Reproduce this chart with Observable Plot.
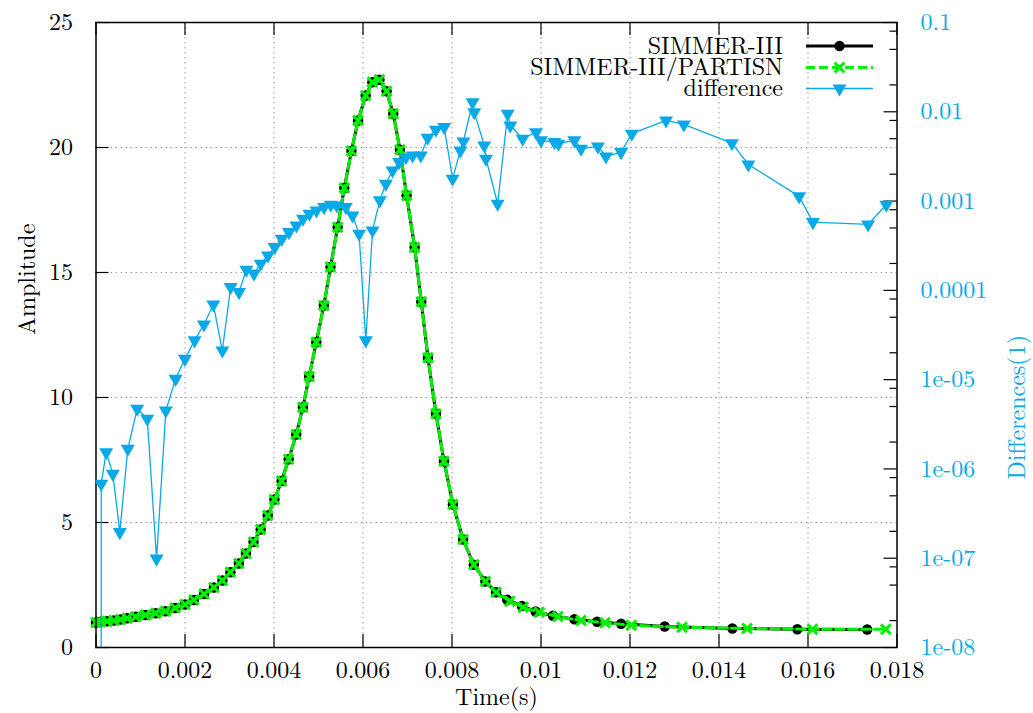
<!DOCTYPE html>
<html>
<head>
<meta charset="utf-8">
<script src="https://cdn.jsdelivr.net/npm/d3@7"></script>
<script src="https://cdn.jsdelivr.net/npm/@observablehq/plot@0.6"></script>
<style>
  body { margin: 0; background: #fff; }
  #chart { position: relative; width: 1033px; height: 713px; }
  #chart svg { position: absolute; left: 0; top: 0; }
</style>
</head>
<body>
<div id="chart"></div>
<script>
// SIMMER-III amplitude history
const simmerTime = [0, 0.0001, 0.00025, 0.0004, 0.00055, 0.0007, 0.00089, 0.00111, 0.00134, 0.00156,
  0.00178, 0.002, 0.0022, 0.00243, 0.00265, 0.00284, 0.00302, 0.00321, 0.00337, 0.00354,
  0.0037, 0.00386, 0.00401, 0.00417, 0.00433, 0.0045, 0.00465, 0.00479, 0.00495, 0.00512,
  0.00527, 0.00543, 0.00558, 0.00574, 0.00589, 0.00606, 0.00621, 0.00637, 0.00653, 0.00668,
  0.00683, 0.00698, 0.00716, 0.00731, 0.00746, 0.00764, 0.00782, 0.00802, 0.00825, 0.00849,
  0.00875, 0.00899, 0.00924, 0.00957, 0.00988, 0.01027, 0.01075, 0.01126, 0.0118, 0.01278,
  0.0143, 0.01576, 0.01733];
const simmerAmp = [1.0, 1.03, 1.05, 1.08, 1.12, 1.17, 1.23, 1.3, 1.37, 1.45,
  1.58, 1.72, 1.9, 2.14, 2.4, 2.68, 3.01, 3.36, 3.76, 4.22,
  4.72, 5.28, 5.92, 6.66, 7.53, 8.52, 9.61, 10.84, 12.21, 13.68,
  15.22, 16.81, 18.38, 19.86, 21.08, 22.08, 22.61, 22.71, 22.25, 21.35,
  19.91, 18.08, 16.01, 13.83, 11.59, 9.35, 7.45, 5.72, 4.32, 3.31,
  2.64, 2.21, 1.91, 1.66, 1.44, 1.27, 1.13, 1.03, 0.95, 0.84,
  0.76, 0.73, 0.72];

// SIMMER-III/PARTISN amplitude history
const partisnTime = [0, 0.0001, 0.00025, 0.0004, 0.00055, 0.0007, 0.00089, 0.00111, 0.00134, 0.00156,
  0.00178, 0.002, 0.0022, 0.00243, 0.00265, 0.00284, 0.00302, 0.00321, 0.00337, 0.00354,
  0.0037, 0.00386, 0.00401, 0.00417, 0.00433, 0.0045, 0.00465, 0.00479, 0.00495, 0.00512,
  0.00527, 0.00543, 0.00558, 0.00574, 0.00589, 0.00606, 0.00621, 0.00637, 0.00653, 0.00668,
  0.00683, 0.00698, 0.00716, 0.00731, 0.00746, 0.00764, 0.00782, 0.00802, 0.00825, 0.00849,
  0.00875, 0.00899, 0.0093, 0.0096, 0.00996, 0.01038, 0.0109, 0.01144, 0.01203, 0.01317,
  0.01463, 0.0161, 0.01775];
const partisnAmp = [1.0, 1.03, 1.05, 1.08, 1.12, 1.17, 1.23, 1.3, 1.37, 1.45,
  1.58, 1.72, 1.9, 2.14, 2.4, 2.68, 3.01, 3.36, 3.76, 4.22,
  4.72, 5.28, 5.92, 6.66, 7.53, 8.52, 9.61, 10.84, 12.21, 13.68,
  15.22, 16.81, 18.38, 19.86, 21.08, 22.08, 22.61, 22.71, 22.25, 21.35,
  19.91, 18.08, 16.01, 13.83, 11.59, 9.35, 7.45, 5.72, 4.32, 3.31,
  2.64, 2.21, 1.85, 1.61, 1.41, 1.24, 1.08, 0.99, 0.89, 0.81,
  0.76, 0.73, 0.73];

// Relative difference between the two codes (right, logarithmic axis)
const diffTime = [0.000117, 0.000117, 0.000229, 0.000378, 0.000535, 0.000715, 0.000927, 0.001152, 0.001361, 0.00157,
  0.001789, 0.001998, 0.002216, 0.002425, 0.002637, 0.002839, 0.003026, 0.003213, 0.003379, 0.00355,
  0.003701, 0.003865, 0.004016, 0.004173, 0.004337, 0.004504, 0.004652, 0.004796, 0.004954, 0.005125,
  0.005276, 0.005411, 0.005613, 0.005764, 0.005912, 0.006063, 0.006214, 0.006378, 0.006513, 0.006664,
  0.006812, 0.006963, 0.007114, 0.0073, 0.007451, 0.007638, 0.007825, 0.008013, 0.008189, 0.008256,
  0.008463, 0.0085, 0.008724, 0.008763, 0.009026, 0.009251, 0.009309, 0.009588, 0.009888, 0.01,
  0.0103, 0.01039, 0.01075, 0.0109, 0.01128, 0.01146, 0.0118, 0.01204, 0.01281, 0.01321,
  0.01429, 0.01466, 0.0158, 0.01611, 0.01735, 0.01776];
const diffValue = [1e-12, 6.8e-7, 1.54e-6, 8.8e-7, 1.96e-7, 1.68e-6, 4.72e-6, 3.65e-6, 9.9e-8, 4.52e-6,
  1.02e-5, 1.71e-5, 2.75e-5, 4.15e-5, 6.95e-5, 2.12e-5, 1.09e-4, 9.55e-5, 1.7e-4, 1.54e-4,
  1.99e-4, 2.46e-4, 3.05e-4, 3.78e-4, 4.49e-4, 5.33e-4, 6.34e-4, 7.21e-4, 7.85e-4, 8.55e-4,
  9.1e-4, 8.93e-4, 8.55e-4, 6.9e-4, 4.31e-4, 2.75e-5, 4.69e-4, 1.02e-3, 1.56e-3, 2.2e-3,
  2.73e-3, 3.1e-3, 3.24e-3, 3.24e-3, 5.12e-3, 6.29e-3, 6.73e-3, 1.78e-3, 3.69e-3, 4.65e-3,
  1.28e-2, 9.9e-3, 4.2e-3, 2.98e-3, 9.33e-4, 9.5e-3, 7.03e-3, 4.99e-3, 5.91e-3, 4.78e-3,
  4.57e-3, 4.39e-3, 4.78e-3, 3.86e-3, 4.09e-3, 3.16e-3, 3.53e-3, 5.68e-3, 8.0e-3, 7.21e-3,
  4.45e-3, 2.57e-3, 1.13e-3, 5.81e-4, 5.47e-4, 9.1e-4];

// Axis ticks and their labels
const timeTicks = [0, 0.002, 0.004, 0.006, 0.008, 0.01, 0.012, 0.014, 0.016, 0.018];
const timeTickLabels = ["0", "0.002", "0.004", "0.006", "0.008", "0.01", "0.012", "0.014", "0.016", "0.018"];
const ampTicks = [0, 5, 10, 15, 20, 25];
const diffTicks = [0.1, 0.01, 0.001, 0.0001, 1e-5, 1e-6, 1e-7, 1e-8];
const diffTickLabels = ["0.1", "0.01", "0.001", "0.0001", "1e-05", "1e-06", "1e-07", "1e-08"];
const diffMinorSteps = [2, 5, 8];

const seriesNames = ["SIMMER-III", "SIMMER-III/PARTISN", "difference"];

// Layout
const W = 1033, H = 713;
const M = {top: 22, right: 136.5, bottom: 66, left: 95.5};
const frameW = W - M.left - M.right;
const frameH = H - M.top - M.bottom;
const FONT = "'Latin Modern Roman', 'Liberation Serif', serif";
const FS = 24;
const KEY_FS = 24;
const BLUE = "#08a9e6";
const GREEN = "#00f000";

const simmer = simmerTime.map((t, i) => ({t, a: simmerAmp[i]}));
const partisn = partisnTime.map((t, i) => ({t, a: partisnAmp[i]}));
const diff = diffTime.map((t, i) => ({t, v: diffValue[i]}));

const timeLabel = new Map(timeTicks.map((d, i) => [d, timeTickLabels[i]]));
const diffLabel = new Map(diffTicks.map((d, i) => [d, diffTickLabels[i]]));
const diffMinor = diffTicks.slice(1).flatMap(d => diffMinorSteps.map(k => d * k));

const common = {
  width: W, height: H,
  marginTop: M.top, marginRight: M.right, marginBottom: M.bottom, marginLeft: M.left,
  style: {fontFamily: FONT, fontSize: FS + "px", background: "transparent", overflow: "visible"}
};
const gridStyle = {stroke: "#9a9a9a", strokeOpacity: 1, strokeWidth: 1, strokeDasharray: "1.5,3.5"};

// Amplitude panel (left axis)
const ampPlot = Plot.plot({
  ...common,
  x: {domain: [0, 0.018], label: null},
  y: {domain: [0, 25], label: null},
  marks: [
    Plot.gridX(timeTicks.slice(1, -1), gridStyle),
    Plot.gridY(ampTicks.slice(1, -1), gridStyle),
    Plot.axisX(timeTicks, {tickSize: 0, tickPadding: 13, tickFormat: d => timeLabel.get(d), fontSize: FS, label: null}),
    Plot.axisY(ampTicks, {tickSize: 0, tickPadding: 23, fontSize: FS, label: null}),
    Plot.tickX(timeTicks, {x: d => d, stroke: "black", strokeWidth: 1.2, insetTop: frameH - 13}),
    Plot.tickX(timeTicks, {x: d => d, stroke: "black", strokeWidth: 1.2, insetBottom: frameH - 13}),
    Plot.tickY(ampTicks, {y: d => d, stroke: "black", strokeWidth: 1.2, insetRight: frameW - 13}),
    Plot.line(simmer, {x: "t", y: "a", stroke: "black", strokeWidth: 3}),
    Plot.dot(simmer, {x: "t", y: "a", r: 5.2, fill: "black", stroke: "none"}),
    Plot.line(partisn, {x: "t", y: "a", stroke: GREEN, strokeWidth: 3, strokeDasharray: "9,4"}),
    Plot.dot(partisn, {x: "t", y: "a", symbol: "times", r: 4.5, stroke: GREEN, strokeWidth: 3}),
    Plot.text(["Amplitude"], {frameAnchor: "left", dx: -68.5, rotate: -90, fontSize: FS, fill: "black"}),
    Plot.text(["Time(s)"], {frameAnchor: "bottom", dy: 50, lineAnchor: "middle", fontSize: FS, fill: "black"}),
    Plot.frame({stroke: "black", strokeWidth: 1.5})
  ]
});

// Difference panel (right, logarithmic axis) drawn over the same frame
const diffPlot = Plot.plot({
  ...common,
  x: {domain: [0, 0.018], axis: null, label: null},
  y: {type: "log", domain: [1e-8, 0.1], label: null},
  marks: [
    Plot.axisY(diffTicks, {anchor: "right", tickSize: 0, tickPadding: 23.5, tickFormat: d => diffLabel.get(d), color: BLUE, fontSize: FS, label: null}),
    Plot.tickY(diffTicks, {y: d => d, stroke: "black", strokeWidth: 1.2, insetLeft: frameW - 13}),
    Plot.tickY(diffMinor, {y: d => d, stroke: "black", strokeWidth: 1.2, insetLeft: frameW - 7}),
    Plot.line(diff, {x: "t", y: "v", stroke: BLUE, strokeWidth: 1.3, clip: true}),
    Plot.dot(diff, {x: "t", y: "v", symbol: "triangle", rotate: 180, r: 5.2, fill: BLUE, stroke: "none", clip: true}),
    Plot.text(["Differences(1)"], {frameAnchor: "right", dx: 120.5, rotate: -90, fontSize: FS, fill: BLUE})
  ]
});

const chart = document.getElementById("chart");
chart.appendChild(ampPlot);
chart.appendChild(diffPlot);

for (const svg of [ampPlot, diffPlot]) {
  svg.setAttribute("font-family", FONT);
  svg.style.fontFamily = FONT;
}

// Key in the upper right corner of the frame
const key = d3.select(diffPlot).append("g")
  .style("font-family", FONT).style("font-size", KEY_FS + "px");
const keyTextX = 783, keyX0 = 806, keyX1 = 873, keyRows = [46, 67.5, 88.5];
const keyStyles = [
  {stroke: "black", width: 3, dash: null},
  {stroke: GREEN, width: 3, dash: "9,4"},
  {stroke: BLUE, width: 1.3, dash: null}
];
seriesNames.forEach((name, i) => {
  const y = keyRows[i];
  key.append("text").attr("x", keyTextX).attr("y", y).attr("dy", "0.33em").attr("text-anchor", "end")
    .attr("fill", "black").text(name);
  const s = keyStyles[i];
  key.append("line").attr("x1", keyX0).attr("x2", keyX1).attr("y1", y).attr("y2", y)
    .attr("stroke", s.stroke).attr("stroke-width", s.width).attr("stroke-dasharray", s.dash);
  const cx = (keyX0 + keyX1) / 2;
  if (i === 0) {
    key.append("circle").attr("cx", cx).attr("cy", y).attr("r", 5.2).attr("fill", "black");
  } else if (i === 1) {
    key.append("path").attr("transform", `translate(${cx},${y})`)
      .attr("d", d3.symbol(d3.symbolTimes, Math.PI * 4.5 * 4.5)())
      .attr("stroke", GREEN).attr("stroke-width", 3).attr("fill", "none");
  } else {
    key.append("path").attr("transform", `translate(${cx},${y}) rotate(180)`)
      .attr("d", d3.symbol(d3.symbolTriangle, Math.PI * 5.2 * 5.2)())
      .attr("fill", BLUE);
  }
});
</script>
</body>
</html>
